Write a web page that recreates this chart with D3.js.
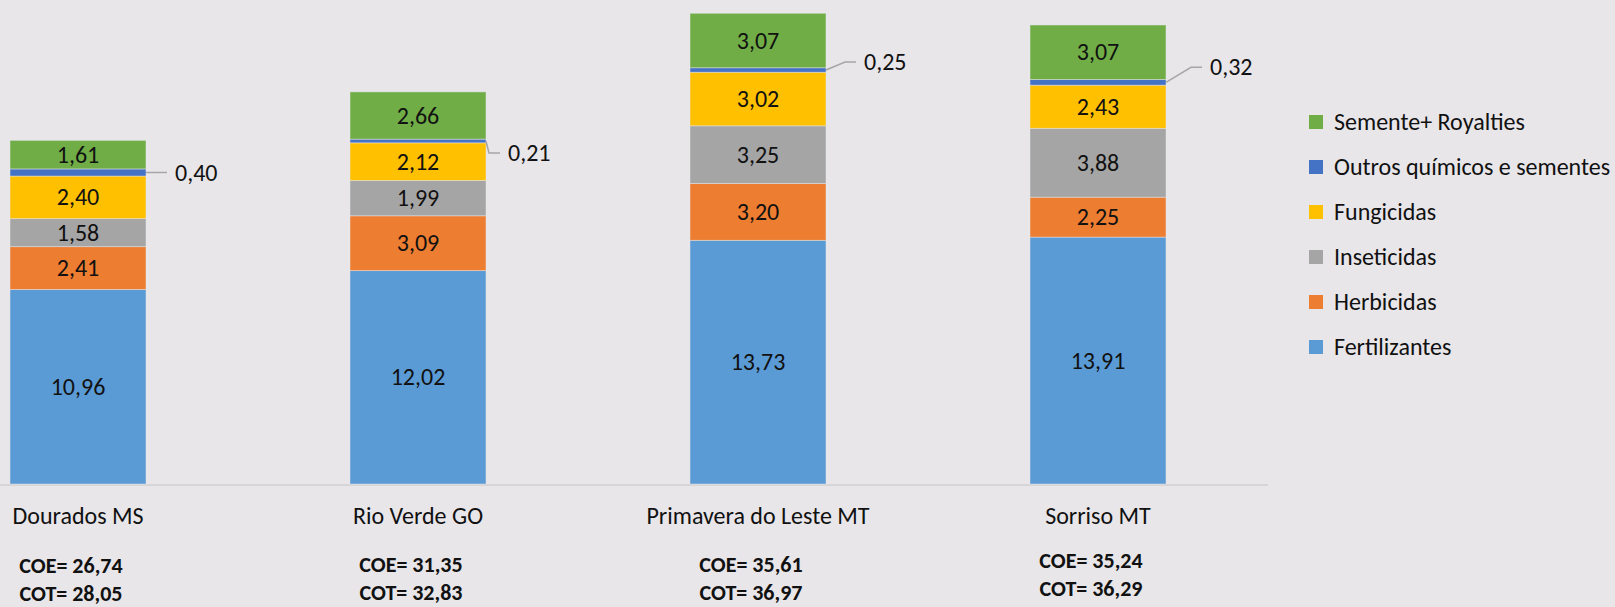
<!DOCTYPE html>
<html>
<head>
<meta charset="utf-8">
<script src="https://cdn.jsdelivr.net/npm/d3@7"></script>
<style>
	html, body { margin: 0; padding: 0; background: #e8e6e9; }
	svg { display: block; }
	text { font-family: Calibri, Carlito, "Open Sans", sans-serif; fill: #111; }
</style>
</head>
<body>
<svg id="chart" width="1615" height="607"></svg>
<script>
// categories (regions)
const regions = ['Dourados MS', 'Rio Verde GO', 'Primavera do Leste MT', 'Sorriso MT']

// series, bottom to top of the stack
const seriesNames = ['Fertilizantes', 'Herbicidas', 'Inseticidas', 'Fungicidas', 'Outros químicos e sementes', 'Semente+ Royalties']
const seriesColors = ['#5b9bd5', '#ed7d31', '#a5a5a5', '#ffc000', '#4472c4', '#70ad47']

const fertilizantes = [10.96, 12.02, 13.73, 13.91]
const herbicidas = [2.41, 3.09, 3.20, 2.25]
const inseticidas = [1.58, 1.99, 3.25, 3.88]
const fungicidas = [2.40, 2.12, 3.02, 2.43]
const outros = [0.40, 0.21, 0.25, 0.32]
const sementes = [1.61, 2.66, 3.07, 3.07]

const coe = ['26,74', '31,35', '35,61', '35,24']
const cot = ['28,05', '32,83', '36,97', '36,29']

/*
 * LAYOUT
 */
const baseY = 484
const pxPerUnit = 17.75
const fontSize = 24
// where the outside labels of the thin "outros" segment sit (relative to bar edge / segment middle)
const leaderDx = [29, 22, 38, 44]
const leaderDy = [0, 12, -8, -15]
const coeShift = [1, 0, 0, -4]

const fmt = v => v.toFixed(2).replace('.', ',')

const svg = d3.select('#chart')

const x = d3.scaleBand()
	.domain(regions)
	.range([-92, 1268])
	.paddingInner(0.6)
	.paddingOuter(0.3)

const y = d3.scaleLinear()
	.domain([0, 27])
	.range([baseY, baseY - 27 * pxPerUnit])

const table = regions.map((r, i) => ({
	region: r,
	'Fertilizantes': fertilizantes[i],
	'Herbicidas': herbicidas[i],
	'Inseticidas': inseticidas[i],
	'Fungicidas': fungicidas[i],
	'Outros químicos e sementes': outros[i],
	'Semente+ Royalties': sementes[i]
}))

const stacked = d3.stack().keys(seriesNames)(table)

// axis line
svg.append('line')
	.attr('x1', 0)
	.attr('x2', x.range()[1])
	.attr('y1', baseY + 1)
	.attr('y2', baseY + 1)
	.attr('stroke', '#d6d5d8')
	.attr('stroke-width', 2)

const layers = svg.append('g')
	.selectAll('g')
	.data(stacked)
	.join('g')
	.attr('fill', (d, i) => seriesColors[i])

layers.selectAll('rect')
	.data(d => d)
	.join('rect')
	.attr('x', d => x(d.data.region))
	.attr('y', d => y(d[1]))
	.attr('width', x.bandwidth())
	.attr('height', d => y(d[0]) - y(d[1]))
	.attr('stroke', '#e8e6e9')
	.attr('stroke-opacity', 0.6)
	.attr('stroke-width', 0.8)

// labels inside segments (all but the thin "outros" one)
stacked.forEach(layer => {
	if (layer.key === 'Outros químicos e sementes') return
	svg.append('g')
		.selectAll('text')
		.data(layer)
		.join('text')
		.attr('x', d => x(d.data.region) + x.bandwidth() / 2)
		.attr('y', d => (y(d[0]) + y(d[1])) / 2)
		.attr('dy', '0.34em')
		.attr('text-anchor', 'middle')
		.attr('font-size', fontSize)
		.text(d => fmt(d[1] - d[0]))
})

// outside labels with leader lines for "outros"
const outrosLayer = stacked.find(s => s.key === 'Outros químicos e sementes')
outrosLayer.forEach((d, i) => {
	const edge = x(d.data.region) + x.bandwidth()
	const segY = (y(d[0]) + y(d[1])) / 2
	const lx = edge + leaderDx[i]
	const ly = segY + leaderDy[i]
	const elbow = Math.max(edge, lx - 19)
	svg.append('path')
		.attr('d', `M${edge},${segY} L${elbow},${ly} L${lx - 8},${ly}`)
		.attr('fill', 'none')
		.attr('stroke', '#a6a6a6')
		.attr('stroke-width', 1.5)
	svg.append('text')
		.attr('x', lx)
		.attr('y', ly)
		.attr('dy', '0.34em')
		.attr('font-size', fontSize)
		.text(fmt(d[1] - d[0]))
})

// category labels
svg.append('g')
	.selectAll('text')
	.data(regions)
	.join('text')
	.attr('x', d => x(d) + x.bandwidth() / 2)
	.attr('y', 524)
	.attr('text-anchor', 'middle')
	.attr('font-size', fontSize)
	.text(d => d)

// COE / COT notes
regions.forEach((r, i) => {
	const cx = x(r) + x.bandwidth() / 2 - 7
	const g = svg.append('g').attr('font-weight', 'bold').attr('font-size', 22)
	g.append('text')
		.attr('x', cx).attr('y', 572 + coeShift[i])
		.attr('text-anchor', 'middle')
		.text('COE= ' + coe[i])
	g.append('text')
		.attr('x', cx).attr('y', 600 + coeShift[i])
		.attr('text-anchor', 'middle')
		.text('COT= ' + cot[i])
})

// legend, top to bottom as in the stack
const legend = svg.append('g')
	.selectAll('g')
	.data(seriesNames.slice().reverse())
	.join('g')
	.attr('transform', (d, i) => `translate(1309, ${122 + i * 45})`)

legend.append('rect')
	.attr('y', -7)
	.attr('width', 14)
	.attr('height', 14)
	.attr('fill', d => seriesColors[seriesNames.indexOf(d)])

legend.append('text')
	.attr('x', 25)
	.attr('dy', '0.34em')
	.attr('font-size', fontSize)
	.text(d => d)
</script>
</body>
</html>
